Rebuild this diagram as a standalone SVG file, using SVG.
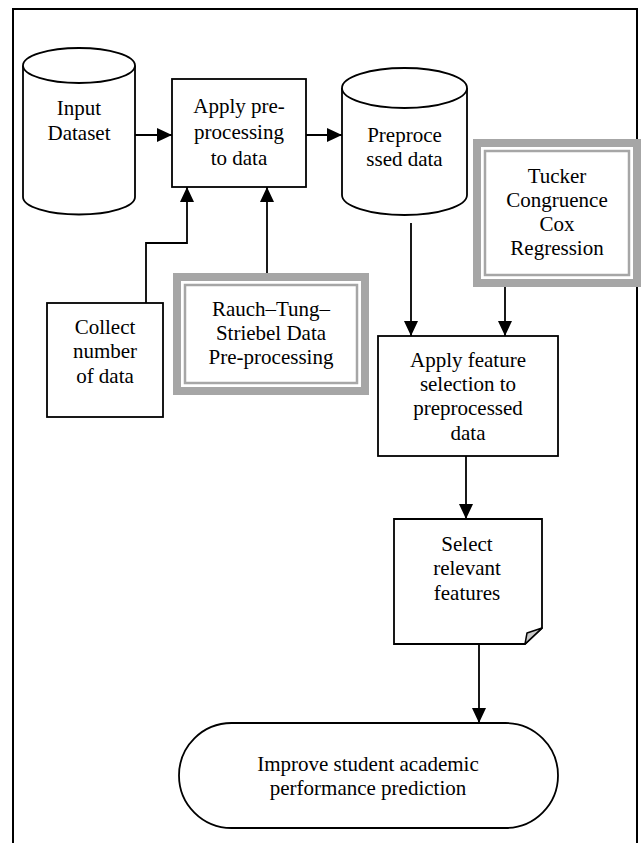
<svg xmlns="http://www.w3.org/2000/svg" width="641" height="843" viewBox="0 0 641 843">
<style>
  .s{fill:#fff;stroke:#000;stroke-width:1.8}
  .t{font-family:"Liberation Serif","Times New Roman",serif;font-size:21px;fill:#000;text-anchor:middle}
  .c{fill:none;stroke:#000;stroke-width:1.8}
  .g{fill:none;stroke:#a6a6a6}
</style>
<defs>
  <marker id="ah" markerUnits="userSpaceOnUse" markerWidth="15" markerHeight="14" refX="15" refY="7" orient="auto">
    <path d="M0,0 L15,7 L0,14 z" fill="#000"/>
  </marker>
</defs>
<rect width="641" height="843" fill="#fff"/>
<path id="border" d="M13,843 V9 H637 V843" fill="none" stroke="#000" stroke-width="2"/>

<g id="input-dataset">
  <path class="s" d="M23,65.5 V197 A56,17.5 0 0 0 135,197 V65.5"/>
  <ellipse class="s" cx="79" cy="65.5" rx="56" ry="17.5"/>
  <text class="t" x="79" y="115">Input</text>
  <text class="t" x="79" y="140">Dataset</text>
</g>

<g id="apply-preprocessing">
  <rect class="s" x="172" y="79" width="134" height="108"/>
  <text class="t" x="239" y="113">Apply pre-</text>
  <text class="t" x="239" y="139">processing</text>
  <text class="t" x="239" y="165">to data</text>
</g>

<g id="preprocessed-data">
  <path class="s" d="M342,88 V195 A62.5,20 0 0 0 467,195 V88"/>
  <ellipse class="s" cx="404.5" cy="88" rx="62.5" ry="20"/>
  <text class="t" x="404.5" y="142">Preproce</text>
  <text class="t" x="404.5" y="166">ssed data</text>
</g>

<g id="tucker">
  <rect x="473" y="139" width="168" height="148" fill="#fff"/>
  <rect class="g" x="477" y="143" width="160" height="140" stroke-width="8"/>
  <rect class="g" x="485" y="151" width="144" height="124" stroke-width="2.5"/>
  <text class="t" x="557" y="183">Tucker</text>
  <text class="t" x="557" y="207">Congruence</text>
  <text class="t" x="557" y="231">Cox</text>
  <text class="t" x="557" y="255">Regression</text>
</g>

<g id="collect">
  <rect class="s" x="47" y="303" width="116" height="114"/>
  <text class="t" x="105" y="334">Collect</text>
  <text class="t" x="105" y="358">number</text>
  <text class="t" x="105" y="383">of data</text>
</g>

<g id="rauch">
  <rect x="173" y="273" width="196" height="122" fill="#fff"/>
  <rect class="g" x="177" y="277" width="188" height="114" stroke-width="8"/>
  <rect class="g" x="185" y="285" width="172" height="98" stroke-width="2.5"/>
  <text class="t" x="271" y="316">Rauch–Tung–</text>
  <text class="t" x="271" y="340">Striebel Data</text>
  <text class="t" x="271" y="364">Pre-processing</text>
</g>

<g id="apply-feature">
  <rect class="s" x="378" y="336" width="180" height="120"/>
  <text class="t" x="468" y="367">Apply feature</text>
  <text class="t" x="468" y="391">selection to</text>
  <text class="t" x="468" y="415">preprocessed</text>
  <text class="t" x="468" y="440">data</text>
</g>

<g id="select">
  <path class="s" d="M394,519 H542 V628 L525,644 H394 z"/>
  <path d="M542,628 L527,633 L525,644 z" fill="#c8c8c8" stroke="#000" stroke-width="1.5" stroke-linejoin="round"/>
  <text class="t" x="467" y="551">Select</text>
  <text class="t" x="467" y="575">relevant</text>
  <text class="t" x="467" y="600">features</text>
</g>

<g id="improve">
  <rect class="s" x="179" y="723" width="379" height="105" rx="52.5" ry="52.5"/>
  <text class="t" x="368" y="771">Improve student academic</text>
  <text class="t" x="368" y="795">performance prediction</text>
</g>

<g id="connectors">
  <path class="c" d="M135,135 H172" marker-end="url(#ah)"/>
  <path class="c" d="M306,135 H342" marker-end="url(#ah)"/>
  <path class="c" d="M146,303 V243 H187 V187" marker-end="url(#ah)"/>
  <path class="c" d="M267,273 V187" marker-end="url(#ah)"/>
  <path class="c" d="M411,223 V336" marker-end="url(#ah)"/>
  <path class="c" d="M505,287 V336" marker-end="url(#ah)"/>
  <path class="c" d="M466,456 V519" marker-end="url(#ah)"/>
  <path class="c" d="M479,644 V723" marker-end="url(#ah)"/>
</g>
</svg>
